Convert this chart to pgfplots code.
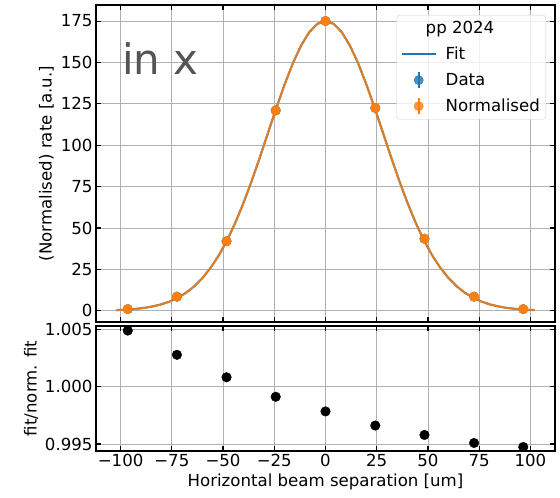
\documentclass[border=0pt]{standalone}
\usepackage{pgfplots}
\pgfplotsset{compat=1.18}
\usepackage{pgfplotstable}
\usepackage{fontspec}
\setmainfont{DejaVu Sans}
\definecolor{tabblue}{HTML}{1F77B4}
\definecolor{taborange}{HTML}{FF7F0E}
\definecolor{gridgrey}{HTML}{B0B0B0}
\definecolor{legedge}{HTML}{CCCCCC}
\definecolor{textgrey}{HTML}{555555}

\pgfplotsset{
  fitleg/.style={legend image code/.code={\path[draw=none,fill=none] (0pt,0pt) -- (42pt,0pt); \draw[tabblue, line width=2pt] (0pt,0pt) -- (34pt,0pt);}},
  dataleg/.style={legend image code/.code={\path[draw=none,fill=none] (0pt,0pt) -- (42pt,0pt); \draw[tabblue, line width=2pt] (17pt,-8pt) -- (17pt,8pt); \fill[tabblue] (17pt,0pt) circle (4.6pt);}},
  normleg/.style={legend image code/.code={\path[draw=none,fill=none] (0pt,0pt) -- (42pt,0pt); \draw[taborange, line width=2pt] (17pt,-8pt) -- (17pt,8pt); \fill[taborange] (17pt,0pt) circle (4.6pt);}},
}

\pgfplotstableread{
x y
-102 0.4
-100 0.5
-96 0.8
-92 1.2
-88 1.8
-84 2.7
-80 3.9
-76 5.6
-72 7.9
-68 10.9
-64 14.8
-60 19.8
-56 26.0
-52 33.6
-48 42.6
-44 53.2
-40 65.2
-36 78.5
-32 92.8
-28 107.7
-24 122.5
-20 136.5
-16 149.3
-12 160.0
-8 168.2
-4 173.3
0 175.0
4 173.3
8 168.2
12 160.0
16 149.3
20 136.5
24 122.5
28 107.7
32 92.8
36 78.5
40 65.2
44 53.2
48 42.6
52 33.6
56 26.0
60 19.8
64 14.8
68 10.9
72 7.9
76 5.6
80 3.9
84 2.7
88 1.8
92 1.2
96 0.8
100 0.5
102 0.4
}\fittable

\pgfplotstableread{
x y
-96.5 1.0
-72.5 8.5
-48.3 42.0
-24.3 121.0
0 175.0
24.3 122.5
48.3 43.5
72.5 8.5
96.5 1.0
}\datatable

\pgfplotstableread{
x y
-96.5 1.00489
-72.5 1.00278
-48.3 1.00082
-24.3 0.99912
0 0.99784
24.3 0.99661
48.3 0.99579
72.5 0.99509
96.5 0.99474
}\ratiotable

\begin{document}
\begin{tikzpicture}
\path[use as bounding box] (-96pt,-176pt) rectangle (464pt,322pt);
\pgfplotsset{
  common/.style={
    scale only axis, width=459pt,
    xmin=-112, xmax=112,
    xtick={-100,-75,-50,-25,0,25,50,75,100},
    grid=major, grid style={gridgrey, line width=0.8pt},
    tick align=inside, major tick length=5pt, tick pos=both,
    tick style={black, line width=1.1pt},
    axis line style={line width=1.1pt},
    every tick label/.append style={font=\fontsize{16.6}{19}\selectfont},
    label style={font=\fontsize{16.6}{19}\selectfont},
    /pgf/number format/assume math mode=true,
  }
}
\begin{axis}[common,
  height=317pt, anchor=south west, at={(0,0)},
  ymin=-6.8, ymax=184.7,
  ytick={0,25,50,75,100,125,150,175},
  xticklabels={},
  ylabel={(Normalised) rate [a.u.]},
  legend style={at={(1,1)}, anchor=north east, xshift=-9pt, yshift=-10pt,
    draw=legedge, fill=white, fill opacity=0.8, text opacity=1,
    rounded corners=3pt, font=\fontsize{16.6}{19}\selectfont,
    row sep=8pt, inner sep=4pt},
  legend cell align=left,
]
\addlegendimage{empty legend}
\addlegendentry{\hspace*{-20pt}pp 2024}
\addlegendimage{fitleg}
\addlegendentry{Fit}
\addlegendimage{dataleg}
\addlegendentry{Data}
\addlegendimage{normleg}
\addlegendentry{Normalised}

\addplot[tabblue, line width=2pt, forget plot] table[x=x,y=y] {\fittable};
\addplot[taborange, opacity=0.85, line width=2pt, forget plot] table[x=x,y=y] {\fittable};
\addplot[only marks, mark=*, mark size=4.8pt, tabblue, forget plot] table[x=x,y=y] {\datatable};
\addplot[only marks, mark=*, mark size=4.8pt, taborange, forget plot] table[x=x,y=y] {\datatable};
\node[anchor=base west, text=textgrey, font=\fontsize{42}{48}\selectfont, inner sep=0pt] at (axis cs:-99.4,143) {in x};
\end{axis}
\begin{axis}[common,
  height=125pt, anchor=north west, at={(0,-4pt)},
  ymin=0.99439, ymax=1.00529,
  ytick={0.995,1.000,1.005},
  yticklabels={0.995,1.000,1.005},
  xticklabels={−100,−75,−50,−25,0,25,50,75,100},
  xlabel={Horizontal beam separation [um]},
  ylabel={fit/norm. fit},
]
\addplot[only marks, mark=*, mark size=4.8pt, black] table[x=x,y=y] {\ratiotable};
\end{axis}
\end{tikzpicture}
\end{document}
